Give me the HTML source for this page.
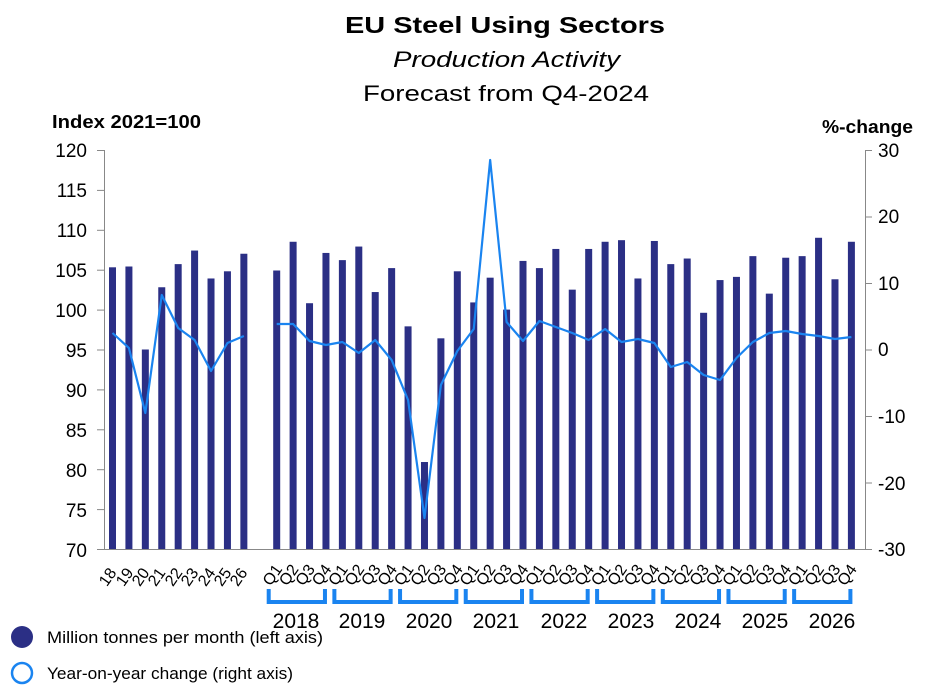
<!DOCTYPE html>
<html><head><meta charset="utf-8"><style>
body{margin:0;background:#fff;}
svg{display:block;font-family:"Liberation Sans",sans-serif;}
</style></head><body>
<svg id="s" width="940" height="698" viewBox="0 0 940 698">
<text x="345" y="33" font-size="23" font-weight="bold" textLength="320" lengthAdjust="spacingAndGlyphs">EU Steel Using Sectors</text>
<text x="393" y="67" font-size="22" font-style="italic" textLength="227" lengthAdjust="spacingAndGlyphs">Production Activity</text>
<text x="363" y="101" font-size="22" textLength="286" lengthAdjust="spacingAndGlyphs">Forecast from Q4-2024</text>
<text x="52" y="128" font-size="18" font-weight="bold" textLength="149" lengthAdjust="spacingAndGlyphs">Index 2021=100</text>
<text x="822" y="133" font-size="18" font-weight="bold" textLength="91" lengthAdjust="spacingAndGlyphs">%-change</text>
<g font-size="19" text-anchor="end">
<text x="87" y="157">120</text><text x="87" y="197">115</text><text x="87" y="237">110</text><text x="87" y="277">105</text><text x="87" y="317">100</text><text x="87" y="357">95</text><text x="87" y="397">90</text><text x="87" y="437">85</text><text x="87" y="477">80</text><text x="87" y="517">75</text><text x="87" y="557">70</text>
</g>
<g font-size="19" text-anchor="start">
<text x="878" y="157">30</text><text x="878" y="223">20</text><text x="878" y="290">10</text><text x="878" y="356">0</text><text x="878" y="423">-10</text><text x="878" y="490">-20</text><text x="878" y="556">-30</text>
</g>
<g stroke="#888" stroke-width="1" fill="none">
<line x1="104.5" y1="150" x2="104.5" y2="549"/>
<line x1="865.5" y1="150" x2="865.5" y2="549"/>
<line x1="97" y1="549.5" x2="872" y2="549.5"/>
</g>
<g id="ticks" stroke="#888"></g>
<g id="bars" fill="#2b2f85"></g>
<g id="line" fill="none" stroke="#1a84f0" stroke-width="2.2" stroke-linejoin="round"></g>
<g id="xl" font-size="16"></g>
<g id="br" fill="none" stroke="#1a84f0" stroke-width="4"></g>
<g font-size="21" text-anchor="middle">
<text x="296" y="628">2018</text><text x="362" y="628">2019</text><text x="429" y="628">2020</text><text x="496" y="628">2021</text><text x="564" y="628">2022</text><text x="631" y="628">2023</text><text x="698" y="628">2024</text><text x="765" y="628">2025</text><text x="832" y="628">2026</text>
</g>
<circle cx="22" cy="637" r="11" fill="#2b2f85"/>
<circle cx="22" cy="673" r="10" fill="none" stroke="#1a84f0" stroke-width="2.5"/>
<text x="47" y="643" font-size="17" textLength="276" lengthAdjust="spacingAndGlyphs">Million tonnes per month (left axis)</text>
<text x="47" y="679" font-size="17" textLength="246" lengthAdjust="spacingAndGlyphs">Year-on-year change (right axis)</text>
<g id="labels" font-size="16">
<text transform="translate(112 580) rotate(-55)" text-anchor="middle">18</text>
<text transform="translate(129 580) rotate(-55)" text-anchor="middle">19</text>
<text transform="translate(145 580) rotate(-55)" text-anchor="middle">20</text>
<text transform="translate(161 580) rotate(-55)" text-anchor="middle">21</text>
<text transform="translate(178 580) rotate(-55)" text-anchor="middle">22</text>
<text transform="translate(194 580) rotate(-55)" text-anchor="middle">23</text>
<text transform="translate(211 580) rotate(-55)" text-anchor="middle">24</text>
<text transform="translate(227 580) rotate(-55)" text-anchor="middle">25</text>
<text transform="translate(243 580) rotate(-55)" text-anchor="middle">26</text>
</g>
</svg>
<script>
var NS="http://www.w3.org/2000/svg";
function el(p,t,a,txt){var e=document.createElementNS(NS,t);for(var k in a)e.setAttribute(k,a[k]);if(txt)e.textContent=txt;document.getElementById(p).appendChild(e);}
var c0=112.5,dx=16.42;
for(var i=0;i<11;i++){el("ticks","line",{x1:97,x2:104,y1:150.5+i*39.9,y2:150.5+i*39.9});}
for(var i=0;i<7;i++){el("ticks","line",{x1:865,x2:872,y1:150.5+i*66.5,y2:150.5+i*66.5});}
var ann=[105.3,105.4,95,102.8,105.7,107.4,103.9,104.8,107];
var q=[104.9,108.5,100.8,107.1,106.2,107.9,102.2,105.2,97.9,80.9,96.4,104.8,100.9,104,100,106.1,105.2,107.6,102.5,107.6,108.5,108.7,103.9,108.6,105.7,106.4,99.6,103.7,104.1,106.7,102,106.5,106.7,109,103.8,108.5];
function bar(x,v){var y=549-(v-70)*7.98;el("bars","rect",{x:x-3.5,y:y,width:7,height:549-y});}
ann.forEach(function(v,i){bar(c0+i*dx,v)});
q.forEach(function(v,i){bar(c0+(i+10)*dx,v)});
var la=[333,348,413,295,328,340,371,343,336];
var lq=[324,324,341,345,342,353,340,360,400,518,385,351,329,160,322,341,321,327,333,340,329,342,339,343,367,362,375,380,358,342,333,331,334,336,339,337];
el("line","polyline",{points:la.map(function(y,i){return (c0+i*dx)+","+y}).join(" ")});
el("line","polyline",{points:lq.map(function(y,i){return (c0+(i+10)*dx)+","+y}).join(" ")});
for(var i=0;i<36;i++){var x=c0+(i+10)*dx;var g=document.createElementNS(NS,"text");g.setAttribute("transform","translate("+(x)+" 578) rotate(-55)");g.setAttribute("text-anchor","middle");g.setAttribute("font-size","16");g.textContent="Q"+(i%4+1);document.getElementById("xl").appendChild(g);}
for(var y=0;y<9;y++){var x1=c0+(10+4*y)*dx-8,x2=c0+(13+4*y)*dx-1;el("br","polyline",{points:x1+",589 "+x1+",602 "+x2+",602 "+x2+",589"});}
</script>
</body></html>
